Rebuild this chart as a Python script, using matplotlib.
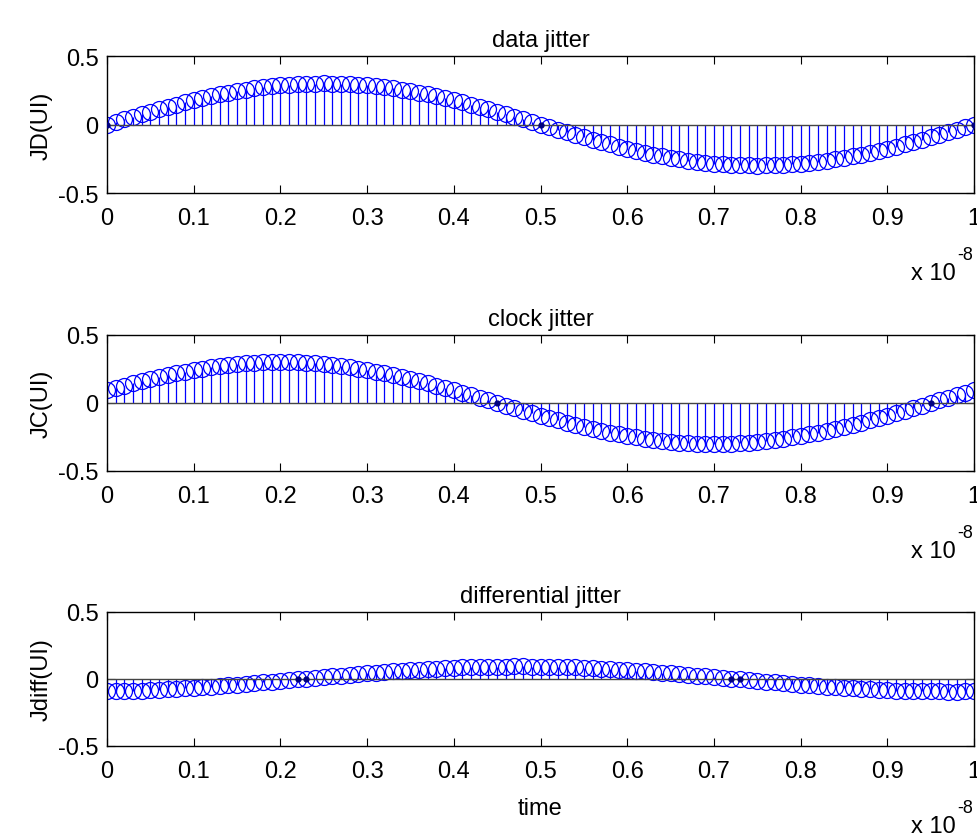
import numpy as np
import matplotlib
matplotlib.use("Agg")
import matplotlib.pyplot as plt

plt.rcParams['font.family'] = ['Liberation Sans', 'DejaVu Sans']

# sample index -> time in units of 1e-8 s (101 samples, step 1e-10 s)
n_samples = 101
time_scaled = np.arange(n_samples) / 100.0

data_jitter = [
    0.000, 0.019, 0.038, 0.056, 0.075, 0.093, 0.110, 0.128, 0.145, 0.161,
    0.176, 0.191, 0.205, 0.219, 0.231, 0.243, 0.253, 0.263, 0.271, 0.279,
    0.285, 0.291, 0.295, 0.298, 0.299, 0.300, 0.299, 0.298, 0.295, 0.291,
    0.285, 0.279, 0.271, 0.263, 0.253, 0.243, 0.231, 0.219, 0.205, 0.191,
    0.176, 0.161, 0.145, 0.128, 0.110, 0.093, 0.075, 0.056, 0.038, 0.019,
    0.000, -0.019, -0.038, -0.056, -0.075, -0.093, -0.110, -0.128, -0.145, -0.161,
    -0.176, -0.191, -0.205, -0.219, -0.231, -0.243, -0.253, -0.263, -0.271, -0.279,
    -0.285, -0.291, -0.295, -0.298, -0.299, -0.300, -0.299, -0.298, -0.295, -0.291,
    -0.285, -0.279, -0.271, -0.263, -0.253, -0.243, -0.231, -0.219, -0.205, -0.191,
    -0.176, -0.161, -0.145, -0.128, -0.110, -0.093, -0.075, -0.056, -0.038, -0.019,
    0.000]

clock_jitter = [
    0.093, 0.110, 0.128, 0.145, 0.161, 0.176, 0.191, 0.205, 0.219, 0.231,
    0.243, 0.253, 0.263, 0.271, 0.279, 0.285, 0.291, 0.295, 0.298, 0.299,
    0.300, 0.299, 0.298, 0.295, 0.291, 0.285, 0.279, 0.271, 0.263, 0.253,
    0.243, 0.231, 0.219, 0.205, 0.191, 0.176, 0.161, 0.145, 0.128, 0.110,
    0.093, 0.075, 0.056, 0.038, 0.019, 0.000, -0.019, -0.038, -0.056, -0.075,
    -0.093, -0.110, -0.128, -0.145, -0.161, -0.176, -0.191, -0.205, -0.219, -0.231,
    -0.243, -0.253, -0.263, -0.271, -0.279, -0.285, -0.291, -0.295, -0.298, -0.299,
    -0.300, -0.299, -0.298, -0.295, -0.291, -0.285, -0.279, -0.271, -0.263, -0.253,
    -0.243, -0.231, -0.219, -0.205, -0.191, -0.176, -0.161, -0.145, -0.128, -0.110,
    -0.093, -0.075, -0.056, -0.038, -0.019, 0.000, 0.019, 0.038, 0.056, 0.075,
    0.093]

diff_jitter = [
    -0.093, -0.092, -0.090, -0.088, -0.086, -0.084, -0.081, -0.078, -0.074, -0.070,
    -0.066, -0.062, -0.058, -0.053, -0.048, -0.043, -0.037, -0.032, -0.026, -0.020,
    -0.015, -0.009, -0.003, 0.003, 0.009, 0.015, 0.020, 0.026, 0.032, 0.037,
    0.043, 0.048, 0.053, 0.058, 0.062, 0.066, 0.070, 0.074, 0.078, 0.081,
    0.084, 0.086, 0.088, 0.090, 0.092, 0.093, 0.093, 0.094, 0.094, 0.093,
    0.093, 0.092, 0.090, 0.088, 0.086, 0.084, 0.081, 0.078, 0.074, 0.070,
    0.066, 0.062, 0.058, 0.053, 0.048, 0.043, 0.037, 0.032, 0.026, 0.020,
    0.015, 0.009, 0.003, -0.003, -0.009, -0.015, -0.020, -0.026, -0.032, -0.037,
    -0.043, -0.048, -0.053, -0.058, -0.062, -0.066, -0.070, -0.074, -0.078, -0.081,
    -0.084, -0.086, -0.088, -0.090, -0.092, -0.093, -0.093, -0.094, -0.094, -0.093,
    -0.093]

titles = ["data jitter", "clock jitter", "differential jitter"]
ylabels = ["JD(UI)", "JC(UI)", "Jdiff(UI)"]
series = [data_jitter, clock_jitter, diff_jitter]
xticks = [0, 0.1, 0.2, 0.3, 0.4, 0.5, 0.6, 0.7, 0.8, 0.9, 1]
xticklabels = ["0", "0.1", "0.2", "0.3", "0.4", "0.5", "0.6", "0.7", "0.8", "0.9", "1"]
yticks = [-0.5, 0, 0.5]
yticklabels = ["-0.5", "0", "0.5"]

W, H = 977, 837
fig = plt.figure(figsize=(W / 100, H / 100), dpi=100)

# axes boxes in pixels: (left, top, right, bottom)
boxes = [(107, 57, 974, 194), (107, 336, 974, 472), (107, 613, 974, 747)]

fs = 17
for i, (vals, box) in enumerate(zip(series, boxes)):
    l, t, r, b = box
    ax = fig.add_axes([l / W, (H - b) / H, (r - l) / W, (b - t) / H])
    vals = np.array(vals)
    ml, sl, bl = ax.stem(time_scaled, vals, linefmt='-', markerfmt='o', basefmt='k-')
    plt.setp(sl, color=(0, 0, 1), linewidth=0.9)
    plt.setp(ml, markerfacecolor='none', markeredgecolor=(0, 0, 1),
             markersize=11.5, markeredgewidth=0.9)
    plt.setp(bl, color='#444444', linewidth=1.0)
    near0 = np.abs(vals) < 0.005
    ax.plot(time_scaled[near0], vals[near0], 'o', color='#000080', markersize=3.5, zorder=5)
    ax.set_xlim(0, 1)
    ax.set_ylim(-0.5, 0.5)
    ax.set_xticks(xticks)
    ax.set_xticklabels(xticklabels, fontsize=fs)
    ax.set_yticks(yticks)
    ax.set_yticklabels(yticklabels, fontsize=fs)
    ax.tick_params(direction='in', top=True, right=True, length=6, width=0.8)
    ax.tick_params(axis='x', pad=10)
    ax.tick_params(axis='y', pad=6)
    for sp in ax.spines.values():
        sp.set_linewidth(1.0)
    ax.set_title(titles[i], fontsize=fs, pad=7)
    ax.set_ylabel(ylabels[i], fontsize=fs, labelpad=4)
    # exponent note "x 10^-8"
    fig.text((r - 18) / W, 1 - (b + 86) / H, "x 10", ha='right', va='baseline', fontsize=fs)
    fig.text((r - 1) / W, 1 - (b + 66) / H, "-8", ha='right', va='baseline', fontsize=13)
    if i == 2:
        ax.set_xlabel("time", fontsize=fs, labelpad=11)

fig.savefig("out.png", dpi=100)
